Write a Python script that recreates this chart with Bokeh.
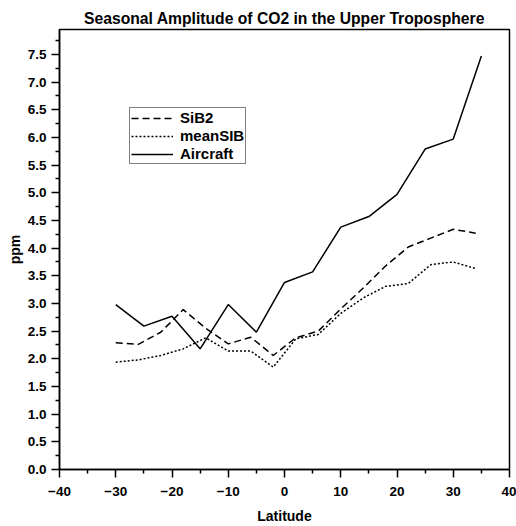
from bokeh.plotting import figure
from bokeh.models import Range1d, FixedTicker, Legend, LegendItem, NumeralTickFormatter
from bokeh.embed import file_html
from bokeh.resources import INLINE

# ---- data ----
model_lat = [-30, -26, -22, -18, -14, -10, -6, -2, 2, 6, 10, 14, 18, 22, 26, 30, 34]
sib2 = [2.29, 2.26, 2.48, 2.89, 2.55, 2.27, 2.39, 2.06, 2.38, 2.50, 2.90, 3.28, 3.68, 4.02, 4.18, 4.34, 4.27]
meansib = [1.94, 1.98, 2.06, 2.18, 2.38, 2.14, 2.14, 1.85, 2.36, 2.44, 2.82, 3.10, 3.31, 3.36, 3.70, 3.75, 3.63]
obs_lat = [-30, -25, -20, -15, -10, -5, 0, 5, 10, 15, 20, 25, 30, 35]
aircraft = [2.98, 2.59, 2.77, 2.18, 2.98, 2.48, 3.38, 3.57, 4.38, 4.57, 4.97, 5.79, 5.97, 7.47]

x_ticks = [-40, -30, -20, -10, 0, 10, 20, 30, 40]
x_minor = [-35, -25, -15, -5, 5, 15, 25, 35]
y_ticks = [0.0, 0.5, 1.0, 1.5, 2.0, 2.5, 3.0, 3.5, 4.0, 4.5, 5.0, 5.5, 6.0, 6.5, 7.0, 7.5]
y_minor = [0.25, 0.75, 1.25, 1.75, 2.25, 2.75, 3.25, 3.75, 4.25, 4.75, 5.25, 5.75, 6.25, 6.75, 7.25, 7.75]

FONT = "Liberation Sans"

p = figure(width=516, height=526, output_backend="svg", toolbar_location=None,
           x_range=Range1d(-40, 40), y_range=Range1d(0, 7.95),
           min_border_left=59, min_border_right=7, min_border_top=29, min_border_bottom=57,
           title="Seasonal Amplitude of CO2 in the Upper Troposphere")

p.title.text_font = FONT
p.title.text_font_size = "15.7px"
p.title.text_font_style = "bold"
p.title.text_color = "black"
p.title.align = "center"
p.title.standoff = 6
p.title.offset = 5

p.xgrid.visible = False
p.ygrid.visible = False
p.outline_line_color = "black"
p.outline_line_width = 1.5
p.background_fill_color = "white"
p.border_fill_color = "white"

p.xaxis.ticker = FixedTicker(ticks=x_ticks, minor_ticks=x_minor)
p.yaxis.ticker = FixedTicker(ticks=y_ticks, minor_ticks=y_minor)
p.yaxis.formatter = NumeralTickFormatter(format="0.0")
p.xaxis.axis_label = "Latitude"
p.yaxis.axis_label = "ppm"

for ax in (p.xaxis, p.yaxis):
    ax.axis_line_color = "black"
    ax.axis_line_width = 1.5
    ax.major_tick_line_color = "black"
    ax.major_tick_line_width = 1.5
    ax.minor_tick_line_color = "black"
    ax.minor_tick_line_width = 1.5
    ax.major_tick_in = 0
    ax.major_tick_out = 8
    ax.minor_tick_in = 0
    ax.minor_tick_out = 4
    ax.major_label_text_font = FONT
    ax.major_label_text_font_size = "13.5px"
    ax.major_label_text_font_style = "bold"
    ax.major_label_text_color = "black"
    ax.axis_label_text_font = FONT
    ax.axis_label_text_font_size = "14px"
    ax.axis_label_text_font_style = "bold"
    ax.axis_label_text_color = "black"

p.xaxis.major_label_standoff = 9
p.xaxis.axis_label_standoff = 9
p.yaxis.major_label_standoff = 5
p.yaxis.axis_label_standoff = 2

r_sib2 = p.line(model_lat, sib2, line_color="black", line_width=1.5, line_dash="7 4")
r_mean = p.line(model_lat, meansib, line_color="black", line_width=1.5, line_dash="2 2")
r_air = p.line(obs_lat, aircraft, line_color="black", line_width=1.5)

legend = Legend(items=[LegendItem(label="SiB2", renderers=[r_sib2]),
                       LegendItem(label="meanSIB", renderers=[r_mean]),
                       LegendItem(label="Aircraft", renderers=[r_air])],
                location=(70, 305))
legend.border_line_color = "black"
legend.border_line_width = 1.5
legend.background_fill_color = "white"
legend.background_fill_alpha = 1.0
legend.label_text_font = FONT
legend.label_text_font_size = "15px"
legend.label_text_font_style = "bold"
legend.label_text_color = "black"
legend.glyph_width = 42
legend.glyph_height = 12
legend.label_height = 12
legend.label_standoff = 7
legend.padding = 1
legend.spacing = 1
legend.margin = 0
p.add_layout(legend, "center")

open("out.html", "w").write(file_html(p, INLINE))
